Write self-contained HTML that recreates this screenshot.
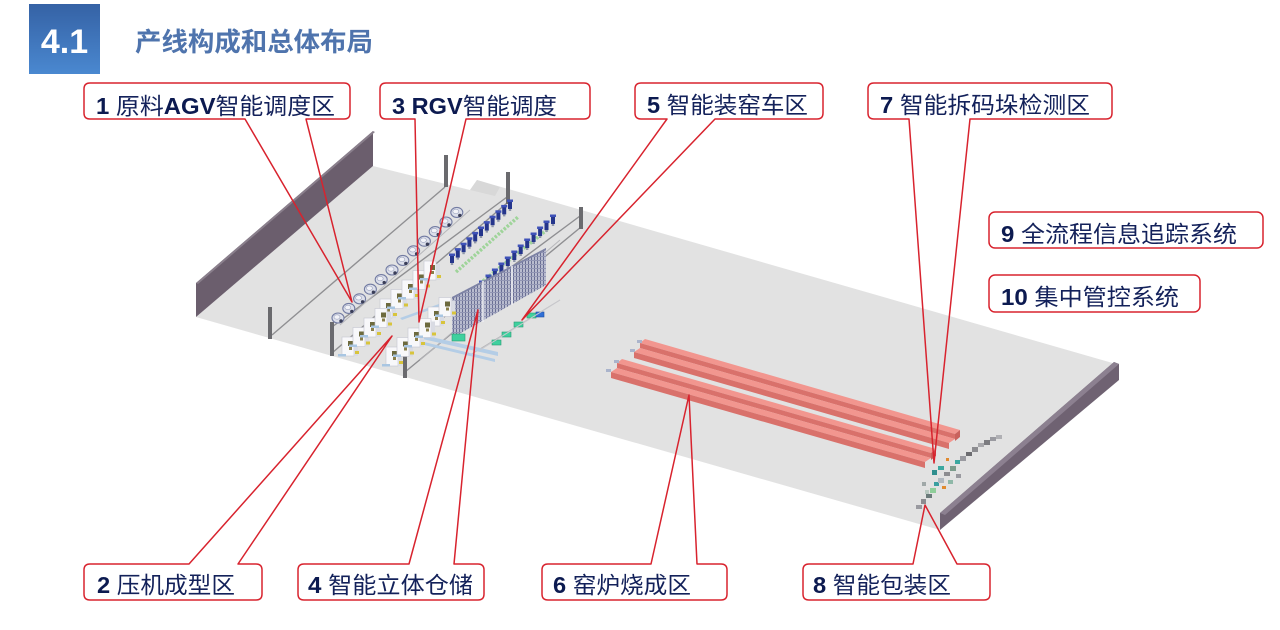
<!DOCTYPE html>
<html><head><meta charset="utf-8">
<style>
html,body{margin:0;padding:0;background:#fff;width:1280px;height:630px;overflow:hidden;}
svg{display:block;}
.n{font-family:"Liberation Sans",sans-serif;font-weight:bold;fill:#0c1a50;}
.c{font-family:"Liberation Sans","Noto Sans CJK SC",sans-serif;font-weight:normal;fill:#13215a;}
.lb{font-size:23px;}
</style></head><body>
<svg width="1280" height="630" viewBox="0 0 1280 630" xmlns="http://www.w3.org/2000/svg">
<defs>
<linearGradient id="tg" x1="0" y1="0" x2="0" y2="1"><stop offset="0" stop-color="#3562a5"/><stop offset="1" stop-color="#4a88d0"/></linearGradient>
<pattern id="rack" width="3" height="4" patternUnits="userSpaceOnUse"><rect width="3" height="4" fill="#b9bccf"/><rect width="1" height="4" fill="#6a6f94"/><rect width="3" height="1" fill="#9195b4"/></pattern>
<g id="agv"><ellipse cx="0" cy="0" rx="6" ry="5" fill="#dcdfea" stroke="#737ca3" stroke-width="1.1"/><ellipse cx="-1" cy="-1" rx="3" ry="2.2" fill="#f2f3f8" stroke="#9aa1bd" stroke-width=".6"/><circle cx="3" cy="3" r="1.7" fill="#3a3e58"/></g>
<g id="rb"><rect x="-2" y="-7" width="4" height="8" fill="#25358c"/><rect x="-3" y="-8.5" width="6" height="2.5" fill="#3f52b8"/><rect x="-1.2" y="1" width="2.4" height="2" fill="#8f96ab"/></g>
<g id="pr"><rect x="-8" y="-17" width="12" height="19" fill="#f8f8fa" stroke="#c3c5d0" stroke-width=".6"/><rect x="4" y="-14" width="4" height="16" fill="#d9dbe3"/><rect x="-2" y="-13" width="5" height="5" fill="#6d6a3e"/><rect x="-1" y="-7" width="3" height="3" fill="#8a7f4a"/><rect x="5" y="-3" width="4" height="3" fill="#d8c43c"/><rect x="-12" y="0" width="8" height="2.5" fill="#a9c6e2"/></g>
</defs>
<rect width="1280" height="630" fill="#fff"/>

<!-- title -->
<rect x="29" y="4" width="71" height="70" fill="url(#tg)"/>
<text x="64.5" y="53" text-anchor="middle" font-family="Liberation Sans,sans-serif" font-weight="bold" font-size="34" fill="#fff">4.1</text>
<text x="135" y="51" font-family="Liberation Sans,Noto Sans CJK SC,sans-serif" font-weight="bold" font-size="26" fill="#4f74ad" textLength="238" lengthAdjust="spacingAndGlyphs">产线构成和总体布局</text>

<!-- floor -->
<polygon points="196,317 373,166 470,190 477,180 1116,364 940,515 940,530" fill="#e2e2e2"/>
<polygon points="470,190 477,180 500,187 495,196" fill="#d8d8d8"/>
<!-- left wall -->
<polygon points="196,283 373,131 373,166 196,317" fill="#6b5e6d"/>
<polygon points="196,283 373,131 375,132 198,284" fill="#8a7f8c"/>
<!-- right wall -->
<polygon points="940,513 1114,362 1119,364 1119,380 940,530" fill="#6f6272"/>
<polygon points="940,513 1114,362 1119,364 945,515" fill="#8c8090"/>

<!-- gantry lines -->
<g stroke="#8f8f92" stroke-width="1.4" fill="none">
<line x1="445" y1="187" x2="272" y2="335"/>
<line x1="507" y1="203" x2="332" y2="353"/>
<line x1="507" y1="197" x2="332" y2="327"/>
<line x1="581" y1="227" x2="405" y2="372"/>
<line x1="580" y1="216" x2="405" y2="346"/>
</g>
<g stroke="#b7b7bb" stroke-width="1" fill="none">
<line x1="470" y1="210" x2="340" y2="325"/>
<line x1="560" y1="240" x2="420" y2="360"/>
<line x1="560" y1="300" x2="470" y2="355"/>
</g>
<!-- poles -->
<g fill="#6a6a6e">
<rect x="444" y="155" width="4" height="32"/>
<rect x="506" y="172" width="4" height="32"/>
<rect x="579" y="207" width="4" height="22"/>
<rect x="268" y="307" width="4" height="32"/>
<rect x="330" y="322" width="4" height="34"/>
<rect x="403" y="352" width="4" height="26"/>
</g>

<!-- AGVs -->
<use href="#agv" x="338" y="318"/><use href="#agv" x="348.8" y="308.4"/><use href="#agv" x="359.6" y="298.8"/><use href="#agv" x="370.4" y="289.2"/><use href="#agv" x="381.2" y="279.6"/><use href="#agv" x="392" y="270"/><use href="#agv" x="402.8" y="260.4"/><use href="#agv" x="413.6" y="250.8"/><use href="#agv" x="424.4" y="241.2"/><use href="#agv" x="435.2" y="231.6"/><use href="#agv" x="446" y="222"/><use href="#agv" x="456.8" y="212.4"/>

<!-- green dotted lines -->
<g stroke="#9fd49a" stroke-width="3.5" stroke-dasharray="2.5 1.5" fill="none">
<line x1="456" y1="272" x2="518" y2="217"/>
<line x1="483" y1="281" x2="548" y2="229"/>
</g>
<!-- blue robots -->
<use href="#rb" x="452" y="262"/><use href="#rb" x="457.8" y="256.6"/><use href="#rb" x="463.6" y="251.2"/><use href="#rb" x="469.4" y="245.8"/><use href="#rb" x="475.2" y="240.4"/><use href="#rb" x="481" y="235"/><use href="#rb" x="486.8" y="229.6"/><use href="#rb" x="492.6" y="224.2"/><use href="#rb" x="498.4" y="218.8"/><use href="#rb" x="504.2" y="213.4"/><use href="#rb" x="510" y="208"/>
<use href="#rb" x="482" y="289"/><use href="#rb" x="488.5" y="283"/><use href="#rb" x="494.9" y="277"/><use href="#rb" x="501.4" y="271"/><use href="#rb" x="507.8" y="265"/><use href="#rb" x="514.3" y="259"/><use href="#rb" x="520.7" y="253"/><use href="#rb" x="527.2" y="247"/><use href="#rb" x="533.6" y="241"/><use href="#rb" x="540.1" y="235"/><use href="#rb" x="546.5" y="229"/><use href="#rb" x="553" y="223"/>

<!-- conveyors -->
<g fill="#b4cde6">
<polygon points="418,334 498,352 498,356 418,338"/>
<polygon points="420,341 495,359 495,362 420,344"/>
<polygon points="400,318 450,300 452,302 402,320"/>
</g>

<!-- racks -->
<polygon points="452,297 546,248 546,285 452,338" fill="url(#rack)"/>
<polygon points="452,297 546,248 546,250 452,299" fill="#7e83a5"/>
<line x1="483" y1="281" x2="483" y2="322" stroke="#f0f0f4" stroke-width="1.5"/>
<line x1="512" y1="266" x2="512" y2="305" stroke="#f0f0f4" stroke-width="1.5"/>

<!-- presses -->
<use href="#pr" x="388" y="316"/><use href="#pr" x="399" y="306.5"/><use href="#pr" x="410" y="297"/><use href="#pr" x="421" y="287.5"/><use href="#pr" x="432" y="278"/>
<use href="#pr" x="436" y="324"/><use href="#pr" x="447" y="314.5"/>
<use href="#pr" x="350" y="354"/><use href="#pr" x="361" y="344.5"/><use href="#pr" x="372" y="335"/><use href="#pr" x="383" y="325.5"/>
<use href="#pr" x="394" y="364"/><use href="#pr" x="405" y="354.5"/><use href="#pr" x="416" y="345"/><use href="#pr" x="427" y="335.5"/>

<!-- green boxes -->
<g stroke="#2a9c74" stroke-width=".6">
<rect x="452" y="334" width="13" height="7" fill="#3fd09e"/>
<rect x="492" y="340" width="9" height="5" fill="#3fd09e"/>
<rect x="502" y="332" width="9" height="5" fill="#3fd09e"/>
<rect x="514" y="322" width="9" height="5" fill="#3fd09e"/>
<rect x="527" y="313" width="9" height="5" fill="#3fd09e"/>
<rect x="536" y="312" width="8" height="5" fill="#2f6fd6" stroke="#1f4fa0"/>
</g>
<line x1="480" y1="350" x2="560" y2="300" stroke="#c8c8cc" stroke-width="1"/>

<!-- kilns -->
<g>
<polygon points="645,339 960,430 955,434 640,343" fill="#f2968f"/>
<polygon points="640,343 955,434 955,439 640,348" fill="#d9716b"/>
<polygon points="640,348 955,439 949,443 634,352" fill="#f2968f"/>
<polygon points="634,352 949,443 949,449 634,358" fill="#d9716b"/>
<polygon points="955,434 960,430 960,437 955,441" fill="#c9625d"/>
<polygon points="622,359 936,449 931,453 617,363" fill="#f2968f"/>
<polygon points="617,363 931,453 931,458 617,368" fill="#d9716b"/>
<polygon points="617,368 931,458 925,462 611,372" fill="#f2968f"/>
<polygon points="611,372 925,462 925,468 611,378" fill="#d9716b"/>
<polygon points="931,453 936,449 936,456 931,460" fill="#c9625d"/>
<g fill="#aab4cc"><rect x="637" y="340" width="5" height="3"/><rect x="630" y="349" width="5" height="3"/><rect x="614" y="360" width="5" height="3"/><rect x="606" y="369" width="5" height="3"/></g>
</g>

<!-- packaging cluster -->
<g>
<rect x="916" y="505" width="6" height="4" fill="#9a9aa0"/>
<rect x="921" y="499" width="5" height="5" fill="#8c8c90"/>
<rect x="926" y="494" width="6" height="4" fill="#6a7a7a"/>
<rect x="930" y="488" width="6" height="5" fill="#8fce9a"/>
<rect x="934" y="482" width="5" height="4" fill="#3a9fa0"/>
<rect x="938" y="478" width="6" height="5" fill="#b0b8c0"/>
<rect x="932" y="470" width="5" height="5" fill="#2f8e8e"/>
<rect x="938" y="466" width="6" height="4" fill="#3aa8a0"/>
<rect x="944" y="472" width="6" height="4" fill="#8c8c90"/>
<rect x="950" y="466" width="6" height="5" fill="#7c9c8c"/>
<rect x="955" y="460" width="5" height="4" fill="#3aa8a0"/>
<rect x="960" y="456" width="6" height="5" fill="#9a9aa0"/>
<rect x="966" y="452" width="6" height="4" fill="#6c6c70"/>
<rect x="972" y="447" width="6" height="5" fill="#8c8c90"/>
<rect x="978" y="443" width="6" height="4" fill="#a8a8ac"/>
<rect x="984" y="440" width="6" height="5" fill="#7c7c80"/>
<rect x="990" y="437" width="6" height="4" fill="#9a9aa0"/>
<rect x="996" y="435" width="6" height="4" fill="#b0b0b4"/>
<rect x="942" y="486" width="4" height="3" fill="#e08a30"/>
<rect x="946" y="458" width="3" height="3" fill="#e08a30"/>
<rect x="925" y="490" width="4" height="4" fill="#b8c8c0"/>
<rect x="948" y="480" width="5" height="4" fill="#8fb8a8"/>
<rect x="956" y="474" width="5" height="4" fill="#9a9aa0"/>
<rect x="922" y="482" width="4" height="4" fill="#a0a8a8"/>
</g>

<!-- label boxes -->
<g fill="#fff">
<rect x="84" y="83" width="266" height="36" rx="6"/>
<rect x="380" y="83" width="210" height="36" rx="6"/>
<rect x="635" y="83" width="188" height="36" rx="6"/>
<rect x="868" y="83" width="244" height="36" rx="6"/>
<rect x="989" y="212" width="274" height="36" rx="6"/>
<rect x="989" y="275" width="211" height="37" rx="6"/>
<rect x="84" y="564" width="178" height="36" rx="6"/>
<rect x="298" y="564" width="186" height="36" rx="6"/>
<rect x="542" y="564" width="185" height="36" rx="6"/>
<rect x="803" y="564" width="187" height="36" rx="6"/>
</g>
<g fill="none" stroke="#d8232e" stroke-width="1.5" stroke-linejoin="round">
<path d="M352,302 L245,119 L90,119 Q84,119 84,113 L84,89 Q84,83 90,83 L344,83 Q350,83 350,89 L350,113 Q350,119 344,119 L306,119 Z"/>
<path d="M419,322 L415,119 L386,119 Q380,119 380,113 L380,89 Q380,83 386,83 L584,83 Q590,83 590,89 L590,113 Q590,119 584,119 L466,119 Z"/>
<path d="M522,320 L667,119 L641,119 Q635,119 635,113 L635,89 Q635,83 641,83 L817,83 Q823,83 823,89 L823,113 Q823,119 817,119 L715,119 Z"/>
<path d="M934,463 L909,119 L874,119 Q868,119 868,113 L868,89 Q868,83 874,83 L1106,83 Q1112,83 1112,89 L1112,113 Q1112,119 1106,119 L970,119 Z"/>
<rect x="989" y="212" width="274" height="36" rx="6"/>
<rect x="989" y="275" width="211" height="37" rx="6"/>
<path d="M392,336 L189,564 L90,564 Q84,564 84,570 L84,594 Q84,600 90,600 L256,600 Q262,600 262,594 L262,570 Q262,564 256,564 L238,564 Z"/>
<path d="M478,310 L409,564 L304,564 Q298,564 298,570 L298,594 Q298,600 304,600 L478,600 Q484,600 484,594 L484,570 Q484,564 478,564 L454,564 Z"/>
<path d="M689,395 L651,564 L548,564 Q542,564 542,570 L542,594 Q542,600 548,600 L721,600 Q727,600 727,594 L727,570 Q727,564 721,564 L697,564 Z"/>
<path d="M925,505 L913,564 L809,564 Q803,564 803,570 L803,594 Q803,600 809,600 L984,600 Q990,600 990,594 L990,570 Q990,564 984,564 L957,564 Z"/>
</g>

<!-- label text -->
<g class="lb">
<text x="96" y="114" textLength="239" lengthAdjust="spacingAndGlyphs"><tspan class="n">1 </tspan><tspan class="c">原料</tspan><tspan class="n">AGV</tspan><tspan class="c">智能调度区</tspan></text>
<text x="392" y="114" textLength="165" lengthAdjust="spacingAndGlyphs"><tspan class="n">3 RGV</tspan><tspan class="c">智能调度</tspan></text>
<text x="647" y="113" textLength="161" lengthAdjust="spacingAndGlyphs"><tspan class="n">5 </tspan><tspan class="c">智能装窑车区</tspan></text>
<text x="880" y="113" textLength="210" lengthAdjust="spacingAndGlyphs"><tspan class="n">7 </tspan><tspan class="c">智能拆码垛检测区</tspan></text>
<text x="1001" y="242" textLength="236" lengthAdjust="spacingAndGlyphs"><tspan class="n">9 </tspan><tspan class="c">全流程信息追踪系统</tspan></text>
<text x="1001" y="305" textLength="178" lengthAdjust="spacingAndGlyphs"><tspan class="n">10 </tspan><tspan class="c">集中管控系统</tspan></text>
<text x="97" y="593" textLength="138" lengthAdjust="spacingAndGlyphs"><tspan class="n">2 </tspan><tspan class="c">压机成型区</tspan></text>
<text x="308" y="593" textLength="165" lengthAdjust="spacingAndGlyphs"><tspan class="n">4 </tspan><tspan class="c">智能立体仓储</tspan></text>
<text x="553" y="593" textLength="138" lengthAdjust="spacingAndGlyphs"><tspan class="n">6 </tspan><tspan class="c">窑炉烧成区</tspan></text>
<text x="813" y="593" textLength="138" lengthAdjust="spacingAndGlyphs"><tspan class="n">8 </tspan><tspan class="c">智能包装区</tspan></text>
</g>
</svg>
</body></html>
